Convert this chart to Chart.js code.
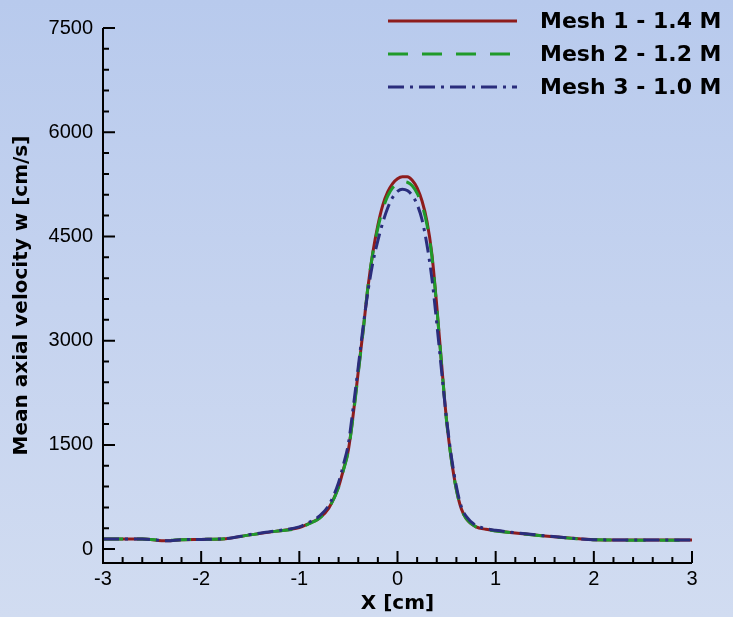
<!DOCTYPE html>
<html lang="en">
<head>
<meta charset="UTF-8">
<title>Mean axial velocity - mesh study</title>
<script src="https://cdn.jsdelivr.net/npm/chart.js"></script>
<style>
  html, body { margin: 0; padding: 0; }
  body {
    width: 733px;
    height: 617px;
    overflow: hidden;
    background: linear-gradient(to bottom, #b8caed 0%, #c5d3ef 50%, #d1dcf1 100%);
  }
  canvas { display: block; }
</style>
</head>
<body>
<canvas id="chartCanvas" width="733" height="617"></canvas>
<script>
// values
const xValues = [-3, -2.6, -2.35, -2.2, -2, -1.75, -1.5, -1.25, -1, -0.9, -0.8, -0.7, -0.6, -0.55, -0.5, -0.45,
                 -0.4, -0.35, -0.3, -0.25, -0.2, -0.15, -0.1, -0.05, 0, 0.05, 0.1, 0.15, 0.2, 0.25, 0.3, 0.35,
                 0.4, 0.45, 0.5, 0.55, 0.6, 0.65, 0.7, 0.8, 0.9, 1, 1.25, 1.5, 1.75, 2, 2.5, 3];
const mesh1 = [145, 145, 120, 135, 140, 150, 205, 255, 310, 370, 440, 590, 900, 1150, 1430, 1950,
               2550, 3150, 3780, 4280, 4660, 4950, 5140, 5260, 5330, 5360, 5360, 5310, 5200, 5010, 4720, 4250,
               3500, 2650, 1850, 1280, 860, 580, 440, 320, 285, 265, 225, 190, 160, 135, 130, 130];
const mesh2 = [145, 145, 125, 135, 140, 150, 205, 255, 305, 365, 440, 590, 890, 1140, 1420, 1930,
               2530, 3140, 3790, 4270, 4620, 4890, 5080, 5200, 5260, 5290, 5280, 5230, 5120, 4950, 4670, 4220,
               3480, 2640, 1840, 1270, 850, 575, 440, 320, 285, 262, 222, 188, 158, 133, 128, 128];
const mesh3 = [145, 145, 120, 135, 140, 150, 210, 260, 320, 385, 470, 630, 960, 1220, 1520, 2050,
               2620, 3200, 3720, 4130, 4440, 4700, 4910, 5060, 5150, 5180, 5160, 5090, 4960, 4740, 4380, 3900,
               3250, 2550, 1870, 1320, 900, 610, 470, 340, 295, 270, 228, 192, 160, 136, 130, 130];
const seriesLabels = ['Mesh 1 - 1.4 M', 'Mesh 2 - 1.2 M', 'Mesh 3 - 1.0 M'];
const xTicks = [-3, -2, -1, 0, 1, 2, 3];
const yTicks = [0, 1500, 3000, 4500, 6000, 7500];

const toPoints = vals => xValues.map((x, i) => ({ x: x, y: vals[i] }));

// axis lines + inward ticks (major and 4 minor between)
const axisPlugin = {
    id: 'axisPlugin',
    afterDatasetsDraw(chart) {
        const { ctx, chartArea, scales } = chart;
        const sx = scales.x, sy = scales.y;
        const left = chartArea.left, bottom = chartArea.bottom;
        ctx.save();
        ctx.strokeStyle = '#000';
        ctx.lineWidth = 2;
        ctx.beginPath();
        ctx.moveTo(left, sy.getPixelForValue(yTicks[yTicks.length - 1]));
        ctx.lineTo(left, bottom);
        ctx.lineTo(sx.getPixelForValue(xTicks[xTicks.length - 1]), bottom);
        ctx.stroke();

        ctx.beginPath();
        xTicks.forEach((v, i) => {
            const px = sx.getPixelForValue(v);
            ctx.moveTo(px, bottom); ctx.lineTo(px, bottom - 12);
            if (i < xTicks.length - 1) {
                const step = (xTicks[i + 1] - v) / 5;
                for (let k = 1; k < 5; k++) {
                    const mx = sx.getPixelForValue(v + k * step);
                    ctx.moveTo(mx, bottom); ctx.lineTo(mx, bottom - 6);
                }
            }
        });
        yTicks.forEach((v, i) => {
            const py = sy.getPixelForValue(v);
            ctx.moveTo(left, py); ctx.lineTo(left + 12, py);
            if (i < yTicks.length - 1) {
                const step = (yTicks[i + 1] - v) / 5;
                for (let k = 1; k < 5; k++) {
                    const my = sy.getPixelForValue(v + k * step);
                    ctx.moveTo(left, my); ctx.lineTo(left + 6, my);
                }
            }
        });
        ctx.stroke();
        ctx.restore();
    }
};

// legend in the top right corner, long line samples
const legendPlugin = {
    id: 'meshLegend',
    afterDraw(chart) {
        const ctx = chart.ctx;
        ctx.save();
        chart.data.datasets.forEach((ds, i) => {
            const y = 21 + i * 33;
            ctx.strokeStyle = ds.borderColor;
            ctx.lineWidth = ds.borderWidth;
            ctx.setLineDash(ds.borderDash || []);
            ctx.beginPath();
            ctx.moveTo(388, y);
            ctx.lineTo(517, y);
            ctx.stroke();
            ctx.setLineDash([]);
            ctx.fillStyle = '#000';
            ctx.font = 'bold 22px "DejaVu Sans"';
            ctx.textAlign = 'left';
            ctx.textBaseline = 'middle';
            ctx.fillText(ds.label, 540, y + 1);
        });
        ctx.restore();
    }
};

const ctx = document.getElementById('chartCanvas').getContext('2d');
const chart = new Chart(ctx, {
    type: 'line',
    data: {
        datasets: [
            {
                label: seriesLabels[0],
                data: toPoints(mesh1),
                borderColor: '#8e1c1c',
                borderWidth: 3,
                order: 3
            },
            {
                label: seriesLabels[1],
                data: toPoints(mesh2),
                borderColor: '#1f9a2a',
                borderWidth: 3,
                borderDash: [20, 14],
                order: 2
            },
            {
                label: seriesLabels[2],
                data: toPoints(mesh3),
                borderColor: '#2a2d7c',
                borderWidth: 3,
                borderDash: [16, 6, 3, 6],
                order: 1
            }
        ]
    },
    options: {
        responsive: false,
        animation: false,
        layout: { padding: { top: 28, right: 41, bottom: 0, left: 0 } },
        elements: {
            point: { radius: 0 },
            line: { cubicInterpolationMode: 'monotone', fill: false }
        },
        plugins: {
            legend: { display: false },
            tooltip: { enabled: false }
        },
        scales: {
            x: {
                type: 'linear',
                min: -3,
                max: 3,
                grid: { display: false, drawTicks: false },
                border: { display: false },
                afterBuildTicks: s => { s.ticks = xTicks.map(v => ({ value: v })); },
                afterFit: s => { s.height = 54; },
                ticks: {
                    color: '#000',
                    font: { family: 'Liberation Sans', size: 20 },
                    padding: 4,
                    maxRotation: 0,
                    autoSkip: false,
                    callback: v => String(v)
                },
                title: {
                    display: true,
                    text: 'X [cm]',
                    color: '#000',
                    font: { family: 'DejaVu Sans', size: 20, weight: 'bold' },
                    padding: { top: 0, bottom: 1 }
                }
            },
            y: {
                type: 'linear',
                min: -200,
                max: 7500,
                grid: { display: false, drawTicks: false },
                border: { display: false },
                afterBuildTicks: s => { s.ticks = yTicks.map(v => ({ value: v })); },
                afterFit: s => { s.width = 103; },
                ticks: {
                    color: '#000',
                    font: { family: 'Liberation Sans', size: 20 },
                    padding: 10,
                    autoSkip: false,
                    callback: v => String(v)
                },
                title: {
                    display: true,
                    text: 'Mean axial velocity w [cm/s]',
                    color: '#000',
                    font: { family: 'DejaVu Sans', size: 20, weight: 'bold' },
                    padding: { top: 10, bottom: 0 }
                }
            }
        }
    },
    plugins: [axisPlugin, legendPlugin]
});
</script>
</body>
</html>
